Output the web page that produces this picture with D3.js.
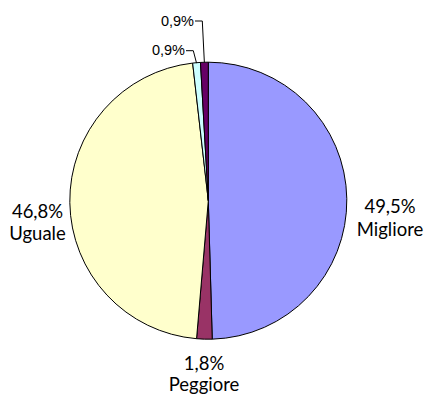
<!DOCTYPE html>
<html>
<head>
<meta charset="utf-8">
<script src="https://cdn.jsdelivr.net/npm/d3@7"></script>
<style>
  html, body { margin: 0; padding: 0; background: #fff; }
  svg { display: block; }
  .lbl { font-family: Lato, "Open Sans", sans-serif; font-size: 18.5px; fill: #000; }
  .small { font-family: "Liberation Sans", Arial, sans-serif; font-size: 14.5px; fill: #000; }
</style>
</head>
<body>
<svg id="chart" width="427" height="396"></svg>
<script>
// Risposte: giudizio sulla situazione
const categories = ["Migliore", "Peggiore", "Uguale", "Non so", "Non risponde"];
const values = [49.5, 1.8, 46.8, 0.9, 0.9];
const valueLabels = ["49,5%", "1,8%", "46,8%", "0,9%", "0,9%"];
const colors = ["#9999FF", "#993366", "#FFFFCC", "#CCFFFF", "#660066"];

const svg = d3.select("#chart");
const cx = 208.3, cy = 200.7, r = 138.5;

const pie = d3.pie().sort(null).value(d => d)(values);
const arc = d3.arc().innerRadius(0).outerRadius(r);

const g = svg.append("g").attr("transform", `translate(${cx},${cy})`);

g.selectAll("path.slice")
  .data(pie)
  .join("path")
  .attr("class", "slice")
  .attr("d", arc)
  .attr("fill", (d, i) => colors[i])
  .attr("stroke", "#000")
  .attr("stroke-width", 1)
  .attr("stroke-linejoin", "round");

// point on the rim at the middle of a slice
function rimPoint(d) {
  const a = (d.startAngle + d.endAngle) / 2;
  return [Math.sin(a) * r, -Math.cos(a) * r];
}

// two-line labels for the large slices
const yScale = 1.06;
const bigLabels = [
  { i: 0, x: 390 - cx, y: 213 - cy, gap: 23.5 },
  { i: 1, x: 204 - cx, y: 369.5 - cy, gap: 22 },
  { i: 2, x: 37.5 - cx, y: 217.5 - cy, gap: 23 }
];
bigLabels.forEach(b => {
  const t = g.append("text")
    .attr("class", "lbl")
    .attr("text-anchor", "middle")
    .attr("transform", `translate(${b.x},${b.y}) scale(1,${yScale})`);
  t.append("tspan").attr("x", 0).attr("y", 0).text(valueLabels[b.i]);
  t.append("tspan").attr("x", 0).attr("y", b.gap / yScale).text(categories[b.i]);
});

// small slices: labels with elbow leader lines
const smallLabels = [
  { i: 3, tx: 185 - cx, ty: 55 - cy, ly: 50.7 - cy, ex: 193.3 - cx },
  { i: 4, tx: 194 - cx, ty: 25.7 - cy, ly: 21 - cy, ex: 202.3 - cx }
];
smallLabels.forEach(s => {
  const p = rimPoint(pie[s.i]);
  g.append("polyline")
    .attr("points", [[s.tx + 1, s.ly], [s.ex, s.ly], [p[0], p[1] + 0.5]].map(q => q.join(",")).join(" "))
    .attr("fill", "none")
    .attr("stroke", "#000")
    .attr("stroke-width", 1);
  g.append("text")
    .attr("class", "small")
    .attr("text-anchor", "end")
    .attr("x", s.tx)
    .attr("y", s.ty)
    .text(valueLabels[s.i]);
});
</script>
</body>
</html>
